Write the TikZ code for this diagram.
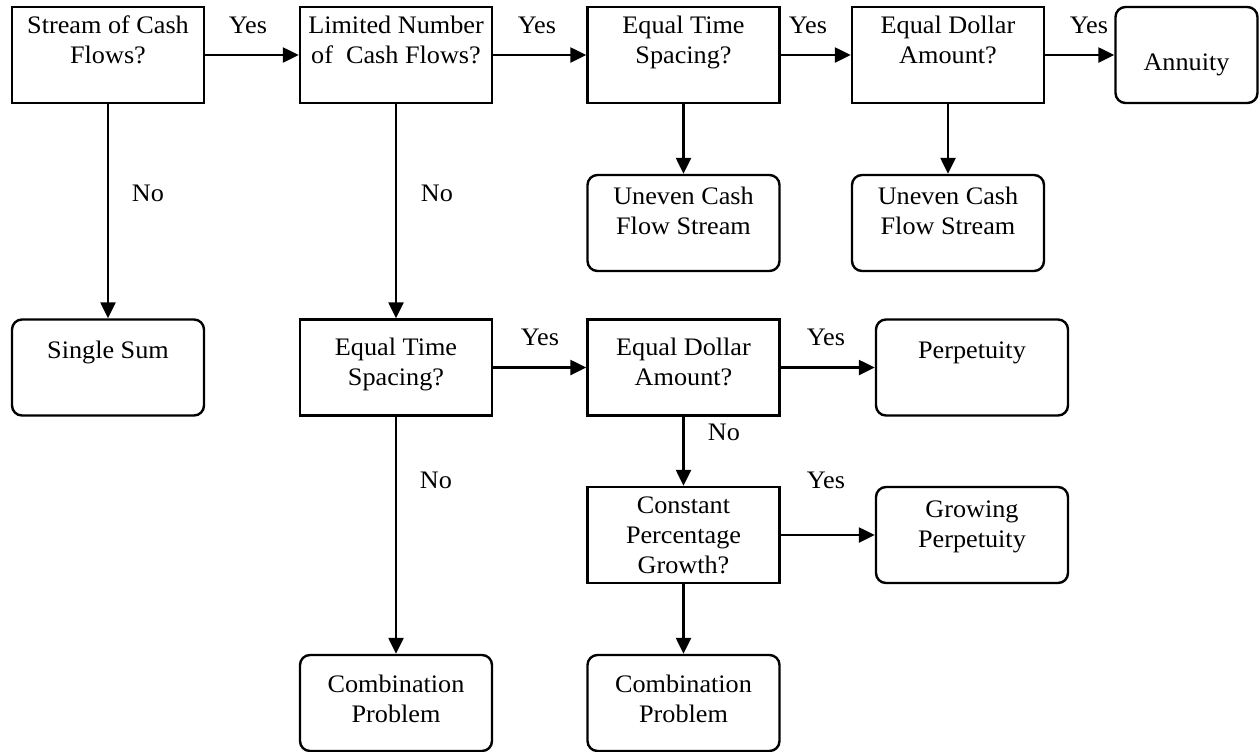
\documentclass[tikz,border=0pt]{standalone}
\usepackage{fontspec}
\setmainfont{Liberation Serif}[FakeStretch=1.04]
\usetikzlibrary{arrows.meta,positioning}
\tikzset{
  decision/.style={draw, line width=1.2pt, inner sep=0pt, minimum width=96pt,
    align=center, text height=#1, text depth={48pt-#1}},
  decision/.default=28pt,
  result/.style={decision=#1, rounded corners=5pt},
  result/.default=28pt,
  flow/.style={line width=1.2pt, -{Triangle[length=8pt,width=7.5pt]}},
  answer/.style={anchor=base, inner sep=0pt}
}

\begin{document}
\begin{tikzpicture}[x=0.5pt, y=-0.5pt, font=\fontsize{12.6}{15}\selectfont]
    \useasboundingbox (0,0) rectangle (1259,751);

    % first row
    \node[decision] (stream) at (108,55) {Stream of Cash\\Flows?};
    \node[decision] (limited) at (396,55) {Limited Number\\of~ Cash Flows?};
    \node[decision] (spacing) at (683.5,55) {Equal Time\\Spacing?};
    \node[decision] (dollar) at (948,55) {Equal Dollar\\Amount?};
    \node[result=31.5pt, minimum width=71pt] (annuity) at (1186.5,55) {Annuity};

    % uneven streams
    \node[result=29.5pt] (uneven) at (683.5,223) {Uneven Cash\\Flow Stream};
    \node[result=29.5pt] (unevenB) at (948,223) {Uneven Cash\\Flow Stream};

    % third row
    \node[result=19.5pt] (single) at (108,367.5) {Single Sum};
    \node[decision=33pt] (spacingB) at (396,367.5) {Equal Time\\Spacing?};
    \node[decision=33pt] (dollarB) at (683.5,367.5) {Equal Dollar\\Amount?};
    \node[result=19.5pt] (perpetuity) at (972,367.5) {Perpetuity};

    % growth row
    \node[decision=43pt] (growth) at (683.5,535) {Constant\\Percentage\\Growth?};
    \node[result=30pt] (growing) at (972,535) {Growing\\Perpetuity};

    % bottom row
    \node[result=33.5pt] (combo) at (396,703) {Combination\\Problem};
    \node[result=33.5pt] (comboB) at (683.5,703) {Combination\\Problem};

    % connectors
    \draw[flow] (stream) -- (limited);
    \draw[flow] (limited) -- (spacing);
    \draw[flow] (spacing) -- (dollar);
    \draw[flow] (dollar) -- (annuity);
    \draw[flow] (spacing) -- (uneven);
    \draw[flow] (dollar) -- (unevenB);
    \draw[flow] (stream) -- (single);
    \draw[flow] (limited) -- (spacingB);
    \draw[flow] (spacingB) -- (dollarB);
    \draw[flow] (dollarB) -- (perpetuity);
    \draw[flow] (dollarB) -- (growth);
    \draw[flow] (growth) -- (growing);
    \draw[flow] (spacingB) -- (combo);
    \draw[flow] (growth) -- (comboB);

    % answers
    \node[answer] (yesA) at (248,33) {Yes};
    \node[answer] (yesB) at (537,33) {Yes};
    \node[answer] (yesC) at (808,33) {Yes};
    \node[answer] (yesD) at (1089,33) {Yes};
    \node[answer] (noA) at (148,201) {No};
    \node[answer] (noB) at (437,201) {No};
    \node[answer] (yesE) at (540,345) {Yes};
    \node[answer] (yesF) at (826,345) {Yes};
    \node[answer] (noC) at (724,440) {No};
    \node[answer] (yesG) at (826,488) {Yes};
    \node[answer] (noD) at (436,488) {No};
\end{tikzpicture}
\end{document}
